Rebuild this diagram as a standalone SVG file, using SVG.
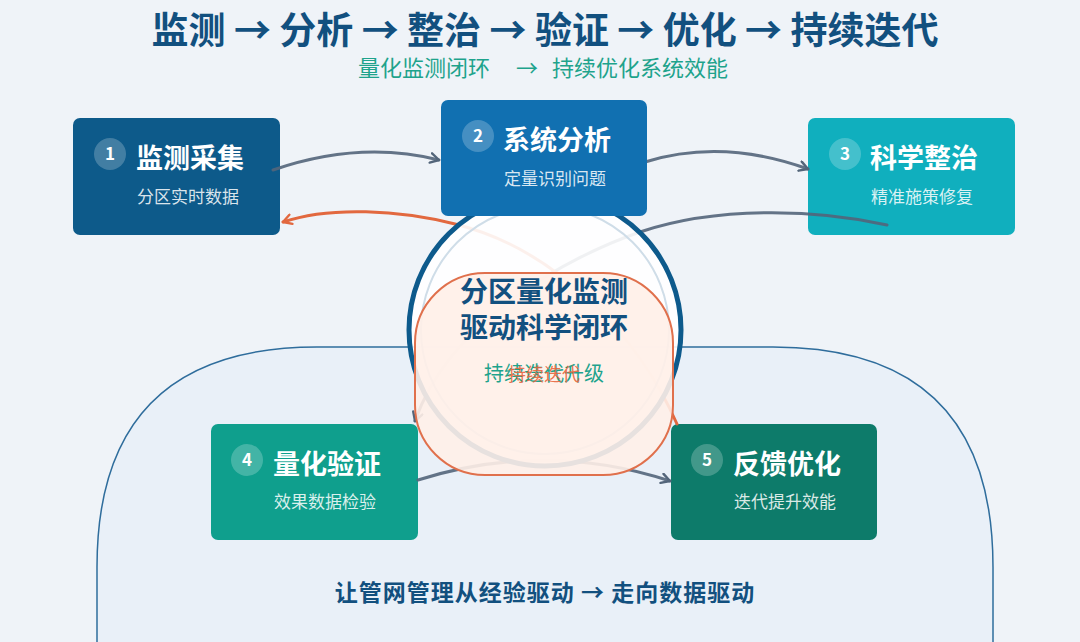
<svg xmlns="http://www.w3.org/2000/svg" width="1080" height="642" viewBox="0 0 1080 642">
<defs>
<style>
.cjk{font-family:"Noto Sans CJK SC","Noto Sans",sans-serif}
.box{stroke:none}
.num{fill:#ffffff;fill-opacity:0.22}
.numt{font-family:"Noto Sans CJK SC","Noto Sans",sans-serif;font-size:17px;font-weight:700;fill:#ffffff;text-anchor:middle}
.ttl{font-family:"Noto Sans CJK SC",sans-serif;font-size:27px;font-weight:700;fill:#ffffff}
.sub{font-family:"Noto Sans CJK SC",sans-serif;font-size:17px;fill:#ffffff;fill-opacity:0.85}
.gc{fill:none;stroke:#53657a;stroke-width:3;stroke-linecap:round;stroke-opacity:0.9}
.oc{fill:none;stroke:#e2683f;stroke-width:3;stroke-linecap:round}
</style>
<marker id="ag" viewBox="0 0 10 10" refX="8" refY="5" markerWidth="4" markerHeight="4" orient="auto">
<path d="M1,1 L8,5 L1,9" fill="none" stroke="#53657a" stroke-width="2" stroke-linecap="round" stroke-linejoin="round"/>
</marker>
<marker id="ao" viewBox="0 0 10 10" refX="8" refY="5" markerWidth="4" markerHeight="4" orient="auto">
<path d="M1,1 L8,5 L1,9" fill="none" stroke="#e2683f" stroke-width="2" stroke-linecap="round" stroke-linejoin="round"/>
</marker>
</defs>
<rect x="0" y="0" width="1080" height="642" fill="#eff3f8"/>
<g id="title">
<text class="cjk" x="545" y="44" font-size="37" font-weight="700" fill="#12507f" text-anchor="middle">监测 → 分析 → 整治 → 验证 → 优化 → 持续迭代</text>
<text class="cjk" y="76" font-size="22" fill="#1ea38c"><tspan x="358">量化监测闭环</tspan><tspan x="516">→</tspan><tspan x="552">持续优化系统效能</tspan></text>
</g>
<g id="base">
<path d="M97 660 L97 567 C97 420 170 347 317 347 L773 347 C920 347 993 420 993 567 L993 660 Z" fill="#e9f0f8" stroke="#2f6d9c" stroke-width="1.5"/>
<text class="cjk" x="545" y="601" font-size="23" font-weight="700" letter-spacing="1" fill="#12507f" text-anchor="middle">让管网管理从经验驱动 → 走向数据驱动</text>
</g>
<g id="node1">
<rect class="box" x="73" y="118" width="207" height="117" rx="7" fill="#0d5a8a"/>
<circle class="num" cx="110" cy="154" r="16"/>
<text class="numt" x="110" y="160">1</text>
<text class="ttl" x="136" y="168">监测采集</text>
<text class="sub" x="137" y="203">分区实时数据</text>
</g>
<g id="node3">
<rect class="box" x="808" y="118" width="207" height="117" rx="7" fill="#10afbe"/>
<circle class="num" cx="845" cy="154" r="16"/>
<text class="numt" x="845" y="160">3</text>
<text class="ttl" x="870" y="168">科学整治</text>
<text class="sub" x="871" y="203">精准施策修复</text>
</g>
<g id="node4">
<rect class="box" x="211" y="424" width="207" height="116" rx="7" fill="#0f9f8d"/>
<circle class="num" cx="247" cy="460" r="16"/>
<text class="numt" x="247" y="466">4</text>
<text class="ttl" x="273" y="474">量化验证</text>
<text class="sub" x="274" y="508">效果数据检验</text>
</g>
<g id="node5">
<rect class="box" x="671" y="424" width="206" height="116" rx="7" fill="#0d7b6a"/>
<circle class="num" cx="707" cy="460" r="16"/>
<text class="numt" x="707" y="466">5</text>
<text class="ttl" x="733" y="474">反馈优化</text>
<text class="sub" x="734" y="508">迭代提升效能</text>
</g>
<g id="connectors">
<path class="gc" d="M273 170 Q360 140 439 160" marker-end="url(#ag)"/>
<path class="gc" d="M645 162 Q722 138 808 169" marker-end="url(#ag)"/>
<path class="gc" d="M887 225 C820 210 720 205 640 232 C570 256 450 320 415 421" marker-end="url(#ag)"/>
<path class="gc" d="M418 480 Q545 440 670 481" marker-end="url(#ag)"/>
<path class="oc" d="M677 424 C640 340 560 250 455 224 C400 210 330 206 283 222" marker-end="url(#ao)"/>
</g>
<g id="center">
<circle cx="545" cy="330" r="136" fill="#ffffff" fill-opacity="0.9" stroke="#0d5a8c" stroke-width="5"/>
<circle cx="545" cy="330" r="124" fill="none" stroke="#cfdde8" stroke-width="2"/>
</g>
<g id="node2">
<rect class="box" x="441" y="100" width="206" height="116" rx="7" fill="#1170b1"/>
<circle class="num" cx="478" cy="136" r="16"/>
<text class="numt" x="478" y="142">2</text>
<text class="ttl" x="503" y="150">系统分析</text>
<text class="sub" x="504" y="185">定量识别问题</text>
</g>
<g id="center-overlay">
<rect x="415" y="273" width="258" height="202" rx="70" fill="#fff0e8" fill-opacity="0.9" stroke="#e0704c" stroke-width="2"/>
<text class="cjk" x="544" y="302" font-size="28" font-weight="700" fill="#12507f" text-anchor="middle">分区量化监测</text>
<text class="cjk" x="544" y="338" font-size="28" font-weight="700" fill="#12507f" text-anchor="middle">驱动科学闭环</text>
<text class="cjk" x="544" y="381" font-size="20" fill="#1ea38c" text-anchor="middle">持续迭代升级</text>
<text class="cjk" x="544" y="381" font-size="18" fill="#e8643c" fill-opacity="0.9" text-anchor="middle">持续迭代</text>
</g>
</svg>
